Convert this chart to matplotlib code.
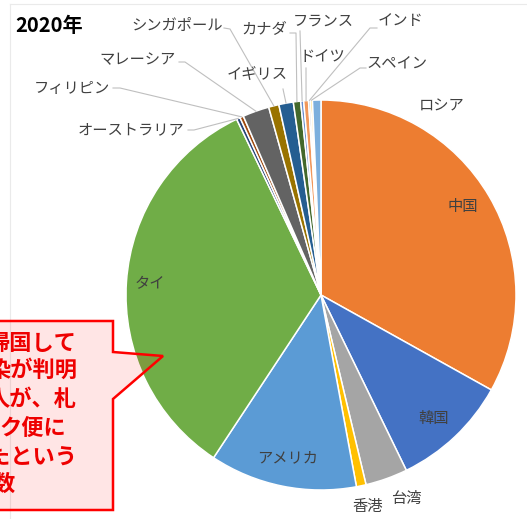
import matplotlib
matplotlib.use("Agg")
import matplotlib.pyplot as plt
from matplotlib.lines import Line2D
from matplotlib.patches import Polygon
import numpy as np

plt.rcParams['font.family'] = ['Noto Sans CJK JP', 'DejaVu Sans']

# ---- data (share, %) in drawing order, clockwise from 12 o'clock ----
countries = ["中国", "韓国", "台湾", "香港", "アメリカ", "タイ", "オーストラリア",
             "フィリピン", "マレーシア", "シンガポール", "イギリス", "カナダ",
             "フランス", "ドイツ", "インド", "スペイン", "ロシア"]
shares = [33.1, 9.7, 3.5, 0.8, 12.2, 33.6, 0.3,
          0.3, 2.2, 0.85, 1.2, 0.6,
          0.25, 0.4, 0.16, 0.16, 0.7]
colors = ["#ED7D31", "#4472C4", "#A5A5A5", "#FFC000", "#5B9BD5", "#70AD47", "#264478",
          "#9E480E", "#636363", "#997300", "#255E91", "#43682B",
          "#698ED0", "#F1975A", "#B7B7B7", "#FFCD33", "#7CAFDD"]
title = "2020年"
callout_lines = ["帰国して", "染が判明", "人が、札", "ク便に", "たという", "数"]

# ---- layout (pixels, origin top-left) ----
W, H = 527, 519
CX, CY, R = 321, 295, 195

# label centre positions
label_pos = {
    "中国": (463, 206), "韓国": (434, 419), "台湾": (406, 498), "香港": (368, 506),
    "アメリカ": (288, 458), "タイ": (150, 284), "オーストラリア": (131, 130),
    "フィリピン": (72, 88), "マレーシア": (138, 60), "シンガポール": (177, 25),
    "イギリス": (257, 74), "カナダ": (264, 29), "フランス": (323, 21),
    "ドイツ": (322, 57), "インド": (401, 21), "スペイン": (397, 64), "ロシア": (442, 106),
}
# leader line start points (one or two points before the wedge edge)
leader_start = {
    "オーストラリア": [(188, 130), (194, 130)],
    "フィリピン": [(113, 88), (120, 88)],
    "マレーシア": [(179, 62), (185, 62)],
    "シンガポール": [(224, 28), (230, 29)],
    "イギリス": [(283, 89)],
    "カナダ": [(290, 33), (296, 33)],
    "フランス": [(300, 31)],
    "ドイツ": [(306, 68)],
    "インド": [(377, 28), (370, 28)],
    "スペイン": [(366, 68), (360, 68)],
}

fig = plt.figure(figsize=(W / 100, H / 100), dpi=100)
fig.patch.set_facecolor("white")


def fx(x):
    return x / W


def fy(y):
    return 1 - y / H


# faint chart border
fig.add_artist(Line2D([fx(9.5), fx(W + 5)], [fy(3.5), fy(3.5)], color="#EAEAEA", lw=0.8,
                      transform=fig.transFigure))
fig.add_artist(Line2D([fx(9.5), fx(9.5)], [fy(3.5), fy(H + 5)], color="#EAEAEA", lw=0.8,
                      transform=fig.transFigure))

ax = fig.add_axes([fx(CX - R), fy(CY + R), 2 * R / W, 2 * R / H])
wedges, _ = ax.pie(shares, colors=colors, startangle=90, counterclock=False,
                   radius=1.0, wedgeprops=dict(edgecolor="white", linewidth=1.1))
ax.set_xlim(-1, 1)
ax.set_ylim(-1, 1)
ax.axis("off")

# labels
for name in countries:
    x, y = label_pos[name]
    fig.text(fx(x), fy(y), name, ha="center", va="center", fontsize=11,
             color="#404040")

# leader lines from labels to wedge edges (mid-angle)
for w, name in zip(wedges, countries):
    if name not in leader_start:
        continue
    mid = np.deg2rad((w.theta1 + w.theta2) / 2)
    px, py = ax.transData.transform((np.cos(mid) * 1.0, np.sin(mid) * 1.0))
    ex, ey = fig.transFigure.inverted().transform((px, py))
    xs = [fx(p[0]) for p in leader_start[name]] + [ex]
    ys = [fy(p[1]) for p in leader_start[name]] + [ey]
    fig.add_artist(Line2D(xs, ys, color="#BFBFBF", lw=0.8, transform=fig.transFigure))

# title
fig.text(fx(15), fy(25), title, ha="left", va="center", fontsize=14.5,
         fontweight="bold", color="black")

# callout
box = [(-5, 321), (113, 321), (113, 352), (163, 356), (113, 399), (113, 510), (-5, 510)]
poly = Polygon([(fx(a), fy(b)) for a, b in box], closed=True,
               facecolor=(1, 0, 0, 0.1), edgecolor="#FF0000", lw=1.8,
               transform=fig.transFigure, zorder=5)
fig.add_artist(poly)

line_x = [-12, -12, -12, -1, -12, -7]
line_y = [343, 370, 400, 428, 457, 484]
for t, x, y in zip(callout_lines, line_x, line_y):
    fig.text(fx(x), fy(y), t, ha="left", va="center", fontsize=16, fontweight="bold",
             color="#EE0000", zorder=6)

fig.savefig("out.png", dpi=100)
